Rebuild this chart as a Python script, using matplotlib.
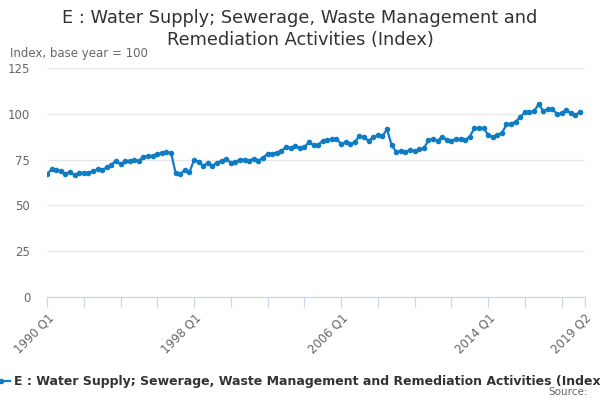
import matplotlib
matplotlib.use("Agg")
import matplotlib.pyplot as plt
from matplotlib.lines import Line2D
import numpy as np

# quarterly categories 1990 Q1 .. 2019 Q2
quarters = ["%d Q%d" % (y, q) for y in range(1990, 2020) for q in range(1, 5)][:118]

# index values (1990 Q1 .. 2019 Q1)
values = [
    67.2, 69.6, 69.2, 68.8, 67.4, 68.2, 66.6, 67.7, 67.9, 67.5,
    68.8, 69.6, 69.2, 70.7, 72.3, 74.3, 72.5, 74.0, 74.3, 74.6,
    74.4, 76.6, 77.0, 77.1, 78.0, 78.4, 78.9, 78.8, 67.5, 67.1,
    69.3, 68.1, 74.8, 73.9, 71.7, 73.0, 71.7, 73.3, 74.4, 75.5,
    73.3, 73.9, 75.0, 75.0, 74.5, 75.6, 74.5, 76.0, 78.2, 78.3,
    78.8, 79.8, 81.7, 81.5, 82.4, 81.5, 81.8, 84.5, 82.8, 83.2,
    85.0, 85.6, 86.0, 86.4, 83.5, 84.6, 83.5, 84.6, 87.9, 87.2,
    85.3, 87.2, 88.3, 87.9, 91.5, 82.9, 79.3, 79.8, 79.3, 80.2,
    79.7, 80.6, 81.1, 85.5, 86.3, 85.2, 87.5, 85.7, 85.2, 86.3,
    86.3, 85.7, 87.5, 92.1, 92.4, 92.1, 88.6, 87.3, 88.6, 89.5,
    94.2, 94.7, 95.6, 98.3, 100.8, 100.8, 101.5, 105.2, 101.5, 102.6,
    102.6, 99.8, 100.2, 102.2, 100.2, 99.3, 101.1,
]

tick_pos = list(range(0, 113, 8)) + [117]
label_pos = [0, 32, 64, 96, 117]

title_lines = ["E : Water Supply; Sewerage, Waste Management and",
               "Remediation Activities (Index)"]
series_name = "E : Water Supply; Sewerage, Waste Management and Remediation Activities (Index)"
blue = "#0f7cc4"
grey = "#666666"

fig = plt.figure(figsize=(6, 4), dpi=100)
ax = fig.add_axes([47 / 600, 1 - 297 / 400, (584.6 - 47) / 600, (297 - 68) / 400])

x = np.arange(len(values))
ax.plot(x, values, color=blue, lw=1.6, marker="o", ms=3, zorder=3)

ax.set_xlim(0, 117)
ax.set_ylim(0, 125)
ax.set_yticks([0, 25, 50, 75, 100, 125])
ax.grid(axis="y", color="#e6e6e6", lw=0.9)
ax.set_axisbelow(True)

ax.set_xticks(tick_pos)
ax.set_xticklabels([quarters[p] if p in label_pos else "" for p in tick_pos],
                   rotation=45, ha="right", rotation_mode="anchor")
ax.tick_params(axis="x", length=7, width=0.9, color="#ccd6eb", labelcolor=grey,
               labelsize=8.5, pad=3)
ax.tick_params(axis="y", length=0, labelcolor=grey, labelsize=8.5, pad=12)
for side in ["top", "right", "left"]:
    ax.spines[side].set_visible(False)
ax.spines["bottom"].set_color("#ccd6eb")
ax.spines["bottom"].set_linewidth(0.9)

fig.text(0.5, 1 - 18 / 400, title_lines[0], ha="center", va="center",
         fontsize=12.8, color="#333333")
fig.text(0.5, 1 - 40 / 400, title_lines[1], ha="center", va="center",
         fontsize=12.8, color="#333333")
fig.text(10 / 600, 1 - 53 / 400, "Index, base year = 100", ha="left", va="center",
         fontsize=8.5, color=grey)

# legend (runs off the right edge like the original)
ly = 1 - 381 / 400
fig.add_artist(Line2D([-8 / 600, 10 / 600], [ly, ly], color=blue, lw=1.6,
                      transform=fig.transFigure))
fig.add_artist(Line2D([1 / 600], [ly], color=blue, marker="o", ms=3,
                      transform=fig.transFigure))
fig.text(14 / 600, ly, series_name, ha="left", va="center", fontsize=9,
         fontweight="bold", color="#333333")
fig.text(588 / 600, 1 - 392 / 400, "Source:", ha="right", va="center",
         fontsize=7.5, color=grey)

fig.savefig("out.png", dpi=100)
